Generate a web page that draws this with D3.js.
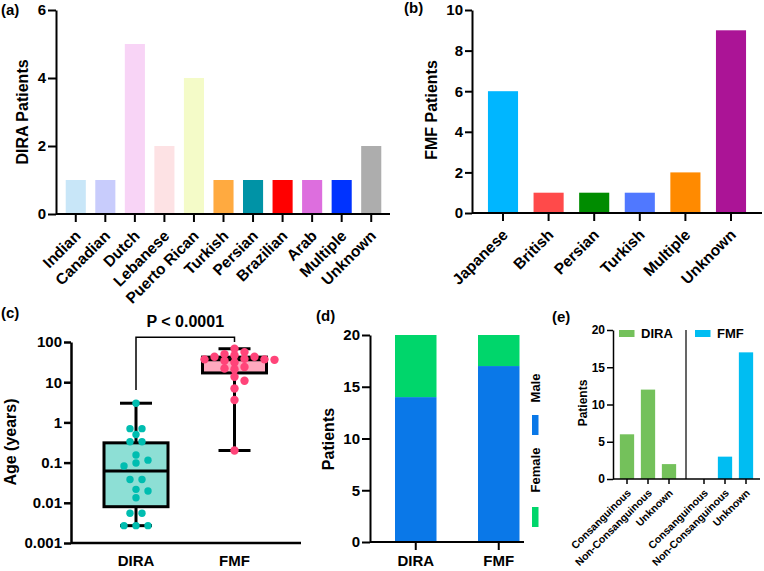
<!DOCTYPE html>
<html><head><meta charset="utf-8">
<script src="https://cdn.jsdelivr.net/npm/d3@7"></script>
<style>
body{margin:0;background:#fff}
svg{display:block;font-family:"Liberation Sans",Arial,sans-serif;font-weight:bold}
</style></head><body>
<svg id="chart" width="764" height="571"></svg>
<script>
// ---------- Panel (a) ----------
const diraEthnicities = ["Indian","Canadian","Dutch","Lebanese","Puerto Rican","Turkish","Persian","Brazilian","Arab","Multiple","Unknown"];
const diraEthCounts = [1,1,5,2,4,1,1,1,1,1,2];
const diraEthColors = ["#c8e6f8","#c8ccfc","#f8d4f6","#fde2e4","#f4fbc8","#ffaa40","#0093a6","#ff0000","#dd6ede","#0033ff","#adadad"];
const diraEthTicks = [0,2,4,6];
// ---------- Panel (b) ----------
const fmfEthnicities = ["Japanese","British","Persian","Turkish","Multiple","Unknown"];
const fmfEthCounts = [6,1,1,1,2,9];
const fmfEthColors = ["#00b6ff","#ff4a4a","#008c00","#5078ff","#ff8a00","#ab1496"];
const fmfEthTicks = [0,2,4,6,8,10];
// ---------- Panel (c) ----------
const ageGroups = ["DIRA","FMF"];
const diraAges = [3,0.7,0.7,0.5,0.33,0.33,0.155,0.115,0.098,0.082,0.038,0.038,0.0216,0.0196,0.0134,0.0055,0.0055,0.0027,0.0027,0.0027];
const fmfAges = [68,56,50,47,43,43,38,37,37,36,34,31,24,22,21,13.7,10.9,7,3.6,0.2];
// min, q1, median, q3, max
const diraAgeBox = [0.0027,0.008,0.062,0.31,3];
const fmfAgeBox = [0.2,17,36,42,68];
const ageTicks = [0.001,0.01,0.1,1,10,100];
const pLabel = "P < 0.0001";
// ---------- Panel (d) ----------
const sexGroups = ["DIRA","FMF"];
const maleCounts = [14,17];
const femaleCounts = [6,3];
const sexTicks = [0,5,10,15,20];
// ---------- Panel (e) ----------
const consCategories = ["Consanguinous","Non-Consanguinous","Unknown"];
const diraCons = [6,12,2];
const fmfCons = [0,3,17];
const consTicks = [0,5,10,15,20];

const svg = d3.select("#chart");
svg.append("rect").attr("width",764).attr("height",571).attr("fill","#fff");

function styleAxis(g, w){
  g.selectAll("path,line").attr("stroke","#000").attr("stroke-width",w);
  g.selectAll("text").attr("fill","#000").style("font-family","Liberation Sans, Arial, sans-serif").style("font-weight","bold");
}
function panelLabel(t,x,y){
  svg.append("text").attr("x",x).attr("y",y).attr("font-size",15).text(t);
}
function yTitle(t,x,y,fs){
  svg.append("text").attr("transform",`translate(${x},${y}) rotate(-90)`).attr("text-anchor","middle")
    .attr("dy","0.35em").attr("font-size",fs).text(t);
}
const fmtInt = d3.format("d");

// ===== Panel (a) =====
{
  const x0=56, x1=390, yb=214, yt=10;
  const x = d3.scaleBand().domain(diraEthnicities).range([61,386]);
  const y = d3.scaleLinear().domain([0,6]).range([yb,yt]);
  const g = svg.append("g");
  g.selectAll("rect").data(diraEthnicities).join("rect")
    .attr("x",d=>x(d)+x.bandwidth()*0.16).attr("width",x.bandwidth()*0.68)
    .attr("y",(d,i)=>y(diraEthCounts[i])).attr("height",(d,i)=>yb-y(diraEthCounts[i]))
    .attr("fill",(d,i)=>diraEthColors[i]);
  const ya = svg.append("g").attr("transform",`translate(${x0},0)`)
    .call(d3.axisLeft(y).tickValues(diraEthTicks).tickFormat(fmtInt).tickSize(8).tickSizeOuter(0).tickPadding(2));
  ya.selectAll("text").attr("font-size",15);
  styleAxis(ya,2);
  svg.append("line").attr("x1",x0).attr("x2",x1).attr("y1",yb).attr("y2",yb).attr("stroke","#000").attr("stroke-width",2);
  const xa = svg.append("g").attr("transform",`translate(0,${yb})`)
    .call(d3.axisBottom(x).tickSize(8).tickSizeOuter(0));
  xa.select(".domain").remove();
  xa.selectAll("text").attr("x",0).attr("y",0).attr("dy","0.35em").attr("text-anchor","end")
    .attr("transform","translate(2,19) rotate(-45)").attr("font-size",15.5);
  styleAxis(xa,2);
  yTitle("DIRA Patients",22,112,16);
  panelLabel("(a)",1,15);
}

// ===== Panel (b) =====
{
  const x0=472, x1=762, yb=213, yt=10;
  const x = d3.scaleBand().domain(fmfEthnicities).range([480.2,753.8]);
  const y = d3.scaleLinear().domain([0,10]).range([yb,yt]);
  svg.append("g").selectAll("rect").data(fmfEthnicities).join("rect")
    .attr("x",d=>x(d)+x.bandwidth()*0.17).attr("width",x.bandwidth()*0.66)
    .attr("y",(d,i)=>y(fmfEthCounts[i])).attr("height",(d,i)=>yb-y(fmfEthCounts[i]))
    .attr("fill",(d,i)=>fmfEthColors[i]);
  const ya = svg.append("g").attr("transform",`translate(${x0},0)`)
    .call(d3.axisLeft(y).tickValues(fmfEthTicks).tickFormat(fmtInt).tickSize(7).tickSizeOuter(0).tickPadding(2));
  ya.selectAll("text").attr("font-size",15);
  styleAxis(ya,2);
  svg.append("line").attr("x1",x0).attr("x2",x1).attr("y1",yb).attr("y2",yb).attr("stroke","#000").attr("stroke-width",2);
  const xa = svg.append("g").attr("transform",`translate(0,${yb})`)
    .call(d3.axisBottom(x).tickSize(8).tickSizeOuter(0));
  xa.select(".domain").remove();
  xa.selectAll("text").attr("x",0).attr("y",0).attr("dy","0.35em").attr("text-anchor","end")
    .attr("transform","translate(2,19) rotate(-45)").attr("font-size",15.5);
  styleAxis(xa,2);
  yTitle("FMF Patients",431,110,16);
  panelLabel("(b)",404,13);
}

// ===== Panel (c) =====
// simple deterministic swarm: equal values optionally spread symmetrically, then shifted on a grid to avoid overlap
function swarm(values, yScale, sp, minDist, groupEqual){
  const pts = values.map(v=>({v,y:yScale(v)})).sort((a,b)=>a.y-b.y);
  const placed=[];
  let i=0;
  while(i<pts.length){
    let j=i+1;
    if(groupEqual){ while(j<pts.length && pts[j].v===pts[i].v) j++; }
    const grp = pts.slice(i,j), n=grp.length;
    const shifts=[0]; for(let s=1;s<10;s++){shifts.push(s*sp,-s*sp);}
    let done=false;
    for(const sh of shifts){
      const offs = grp.map((p,k)=>(k-(n-1)/2)*sp+sh);
      const ok = grp.every((p,k)=>placed.every(q=>Math.hypot(q.dx-offs[k],q.y-p.y)>=minDist));
      if(ok){ grp.forEach((p,k)=>{p.dx=offs[k]; placed.push(p);}); done=true; break; }
    }
    if(!done){ grp.forEach((p,k)=>{p.dx=(k-(n-1)/2)*sp; placed.push(p);}); }
    i=j;
  }
  return pts;
}
{
  const x0=71, x1=301, yb=543, yt=342;
  const x = d3.scalePoint().domain(ageGroups).range([136,234.5]);
  const y = d3.scaleLog().domain([0.001,100]).range([yb,yt]);
  const ya = svg.append("g").attr("transform",`translate(${x0},0)`)
    .call(d3.axisLeft(y).tickValues(ageTicks).tickFormat(d=>String(d)).tickSize(7).tickSizeOuter(0).tickPadding(2));
  ya.selectAll("text").attr("font-size",15);
  styleAxis(ya,2.5);
  svg.append("line").attr("x1",x0).attr("x2",x1).attr("y1",yb).attr("y2",yb).attr("stroke","#000").attr("stroke-width",2.5);
  ageGroups.forEach((gName)=>{
    svg.append("text").attr("x",x(gName)).attr("y",566).attr("text-anchor","middle").attr("font-size",15).text(gName);
  });
  const groups = [
    {name:"DIRA", vals:diraAges, box:diraAgeBox, fill:"#8ddfd5", dot:"#00bdb0", sp:12, md:7.5, r:3.7, ge:true},
    {name:"FMF", vals:fmfAges, box:fmfAgeBox, fill:"#ffa9bf", dot:"#ff4479", sp:10, md:6, r:4.2, ge:false}
  ];
  const bw=64, cw=32;
  groups.forEach(gr=>{
    const cx=x(gr.name); const [mn,q1,md,q3,mx]=gr.box;
    const g=svg.append("g");
    g.append("line").attr("x1",cx).attr("x2",cx).attr("y1",y(mx)).attr("y2",y(q3)).attr("stroke","#000").attr("stroke-width",3);
    g.append("line").attr("x1",cx).attr("x2",cx).attr("y1",y(q1)).attr("y2",y(mn)).attr("stroke","#000").attr("stroke-width",3);
    g.append("line").attr("x1",cx-cw/2).attr("x2",cx+cw/2).attr("y1",y(mx)).attr("y2",y(mx)).attr("stroke","#000").attr("stroke-width",3);
    g.append("line").attr("x1",cx-cw/2).attr("x2",cx+cw/2).attr("y1",y(mn)).attr("y2",y(mn)).attr("stroke","#000").attr("stroke-width",3);
    g.append("rect").attr("x",cx-bw/2).attr("width",bw).attr("y",y(q3)).attr("height",y(q1)-y(q3))
      .attr("fill",gr.fill).attr("stroke","#000").attr("stroke-width",3);
    g.append("line").attr("x1",cx-bw/2).attr("x2",cx+bw/2).attr("y1",y(md)).attr("y2",y(md)).attr("stroke","#000").attr("stroke-width",3);
    const pts = swarm(gr.vals,y,gr.sp,gr.md,gr.ge);
    g.selectAll("circle").data(pts).join("circle").attr("cx",p=>cx+p.dx).attr("cy",p=>p.y).attr("r",gr.r).attr("fill",gr.dot);
  });
  const by=337.3;
  svg.append("path").attr("d",`M${x("DIRA")},390V${by}H${x("FMF")}V342`).attr("fill","none").attr("stroke","#000").attr("stroke-width",1.5);
  svg.append("text").attr("x",(x("DIRA")+x("FMF"))/2).attr("y",327).attr("text-anchor","middle").attr("font-size",16).text(pLabel);
  yTitle("Age (years)",10,442,16);
  panelLabel("(c)",1,318);
}

// ===== Panel (d) =====
{
  const x0=370, x1=524, yb=542, yt=335;
  const xs = d3.scaleBand().domain(sexGroups).range([395,519.5]).paddingInner(0.5);
  const y = d3.scaleLinear().domain([0,20]).range([yb,yt]);
  const stack = sexGroups.map((s,i)=>({s,m:maleCounts[i],f:femaleCounts[i]}));
  const g=svg.append("g");
  g.selectAll(".m").data(stack).join("rect").attr("x",d=>xs(d.s)).attr("width",xs.bandwidth())
    .attr("y",d=>y(d.m)).attr("height",d=>yb-y(d.m)).attr("fill","#0a78e8");
  g.selectAll(".f").data(stack).join("rect").attr("x",d=>xs(d.s)).attr("width",xs.bandwidth())
    .attr("y",d=>y(d.m+d.f)).attr("height",d=>y(d.m)-y(d.m+d.f)).attr("fill","#00d66b");
  const ya = svg.append("g").attr("transform",`translate(${x0},0)`)
    .call(d3.axisLeft(y).tickValues(sexTicks).tickFormat(fmtInt).tickSize(8).tickSizeOuter(0).tickPadding(2));
  ya.selectAll("text").attr("font-size",15);
  styleAxis(ya,2);
  svg.append("line").attr("x1",x0).attr("x2",x1).attr("y1",yb).attr("y2",yb).attr("stroke","#000").attr("stroke-width",2);
  sexGroups.forEach(s=>{
    const cx = xs(s)+xs.bandwidth()/2;
    svg.append("line").attr("x1",cx).attr("x2",cx).attr("y1",yb).attr("y2",yb+8).attr("stroke","#000").attr("stroke-width",2);
    svg.append("text").attr("x",cx).attr("y",566).attr("text-anchor","middle").attr("font-size",15).text(s);
  });
  const leg=[{t:"Male",c:"#0a78e8",ty:388,ry:415},{t:"Female",c:"#00d66b",ty:470,ry:507}];
  leg.forEach(l=>{
    svg.append("text").attr("transform",`translate(535,${l.ty}) rotate(-90)`).attr("text-anchor","middle").attr("dy","0.35em").attr("font-size",13).text(l.t);
    svg.append("rect").attr("x",532).attr("y",l.ry).attr("width",6.5).attr("height",20).attr("fill",l.c);
  });
  yTitle("Patients",328,439,16);
  panelLabel("(d)",316,321);
}

// ===== Panel (e) =====
{
  const x0=613, x1=760, yb=479, yt=330;
  const xD = d3.scaleBand().domain(consCategories).range([616.5,679.5]);
  const xF = d3.scaleBand().domain(consCategories).range([693.5,756.5]);
  const y = d3.scaleLinear().domain([0,20]).range([yb,yt]);
  const sets=[{xs:xD,v:diraCons,c:"#74c15b"},{xs:xF,v:fmfCons,c:"#00bdf2"}];
  sets.forEach(st=>{
    svg.append("g").selectAll("rect").data(consCategories).join("rect")
      .attr("x",d=>st.xs(d)+st.xs.bandwidth()*0.16).attr("width",st.xs.bandwidth()*0.68)
      .attr("y",(d,i)=>y(st.v[i])).attr("height",(d,i)=>yb-y(st.v[i])).attr("fill",st.c);
    const xa = svg.append("g").attr("transform",`translate(0,${yb})`)
      .call(d3.axisBottom(st.xs).tickSize(5).tickSizeOuter(0));
    xa.select(".domain").remove();
    xa.selectAll("text").attr("x",0).attr("y",0).attr("dy","0.35em").attr("text-anchor","end")
      .attr("transform","translate(2,12) rotate(-45)").attr("font-size",10.5);
    styleAxis(xa,1.5);
  });
  const ya = svg.append("g").attr("transform",`translate(${x0},0)`)
    .call(d3.axisLeft(y).tickValues(consTicks).tickFormat(fmtInt).tickSize(6).tickSizeOuter(0).tickPadding(2));
  ya.selectAll("text").attr("font-size",12);
  styleAxis(ya,1.5);
  svg.append("line").attr("x1",x0).attr("x2",x1).attr("y1",yb).attr("y2",yb).attr("stroke","#000").attr("stroke-width",1.5);
  svg.append("line").attr("x1",686).attr("x2",686).attr("y1",yt).attr("y2",yb).attr("stroke","#000").attr("stroke-width",1.2);
  [{x:619,c:"#74c15b",t:"DIRA"},{x:695,c:"#00bdf2",t:"FMF"}].forEach(l=>{
    svg.append("rect").attr("x",l.x).attr("y",330).attr("width",15.5).attr("height",7).attr("fill",l.c);
    svg.append("text").attr("x",l.x+22).attr("y",338).attr("font-size",13).text(l.t);
  });
  yTitle("Patients",582.5,403,12);
  panelLabel("(e)",552,322);
}
</script></body></html>
